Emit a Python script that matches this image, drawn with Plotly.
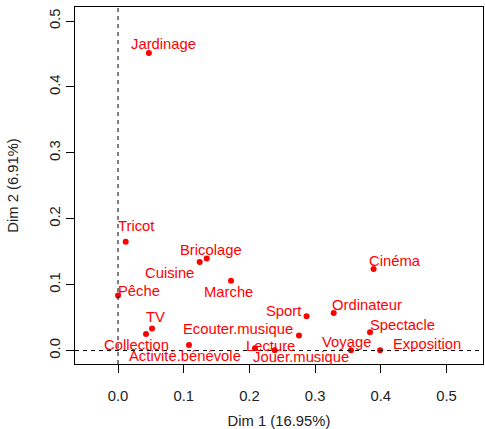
import plotly.graph_objects as go

labels = ["Jardinage", "Tricot", "Bricolage", "Cuisine", "Marche", "Pêche", "TV",
          "Collection", "Activité.bénévole", "Lecture", "Jouer.musique",
          "Ecouter.musique", "Sport", "Ordinateur", "Cinéma", "Spectacle",
          "Voyage", "Exposition"]
dim1 = [0.047, 0.0117, 0.135, 0.1243, 0.172, 0.0, 0.0518,
        0.0426, 0.108, 0.2085, 0.2385,
        0.2755, 0.287, 0.3283, 0.389, 0.3836,
        0.3547, 0.399]
dim2 = [0.4514, 0.165, 0.1398, 0.1342, 0.1058, 0.0836, 0.0334,
        0.0252, 0.0085, 0.0035, 0.0005,
        0.0228, 0.052, 0.057, 0.1236, 0.0278,
        0.0005, 0.0005]
# label offsets in pixels (dx right, dy down)
label_dx = [15, 10, 4, -30, -3, 20.5, 3, -10, -3.5, 16, 26, -60.6, -23, 33, 21, 32, -5, 46.7]
label_dy = [-9, -15.7, -8, 11, 11, -4, -12, 11.3, 11, -2.3, 6.7, -7, -5.7, -8.4, -8.3, -7, -8.3, -6]

xticks = [0.0, 0.1, 0.2, 0.3, 0.4, 0.5]
yticks = [0.0, 0.1, 0.2, 0.3, 0.4, 0.5]

FONT = "Liberation Sans, Arial, Helvetica, sans-serif"
FS = 14.8

fig = go.Figure()
fig.add_trace(go.Scatter(x=dim1, y=dim2, mode="markers",
                         marker=dict(color="#FF0000", size=6, line=dict(width=0)),
                         hoverinfo="text", text=labels, showlegend=False))

for lab, x, y, dx, dy in zip(labels, dim1, dim2, label_dx, label_dy):
    fig.add_annotation(x=x, y=y, text=lab, showarrow=False, xanchor="center",
                       yanchor="middle", xshift=dx, yshift=-dy,
                       font=dict(color="#FF0000", size=FS, family=FONT))

fig.add_shape(type="line", xref="x", yref="paper", x0=0, x1=0, y0=0, y1=1,
              line=dict(color="black", width=1, dash="4px,4px"))
fig.add_shape(type="line", xref="paper", yref="y", x0=0, x1=1, y0=0, y1=0,
              line=dict(color="black", width=1, dash="4px,4px"))

axis_common = dict(showgrid=False, zeroline=False, showline=True, mirror=True,
                   linecolor="black", linewidth=1, ticks="outside", ticklen=8,
                   tickcolor="black", tickwidth=1, automargin=False,
                   tickfont=dict(family=FONT, size=FS, color="#222"))

fig.update_xaxes(range=[-0.0655, 0.5556], tickvals=xticks,
                 ticktext=[f"{v:.1f}" for v in xticks], ticklabelstandoff=10,
                 title=dict(text="Dim 1 (16.95%)", font=dict(family=FONT, size=FS, color="#222"), standoff=12),
                 **axis_common)
fig.update_yaxes(range=[-0.0204, 0.5213], tickvals=yticks,
                 ticktext=[f"{v:.1f}" for v in yticks], tickangle=-90,
                 title=dict(text="Dim 2 (6.91%)", font=dict(family=FONT, size=FS, color="#222"), standoff=24),
                 **axis_common)

fig.update_layout(width=485, height=429, plot_bgcolor="white", paper_bgcolor="white",
                  margin=dict(l=75.3, r=1.7, t=7.3, b=65.3), font=dict(family=FONT))

fig.write_html("out.html", config={"displayModeBar": False},
               post_script="document.body.style.margin='0';document.body.style.overflow='hidden';")
